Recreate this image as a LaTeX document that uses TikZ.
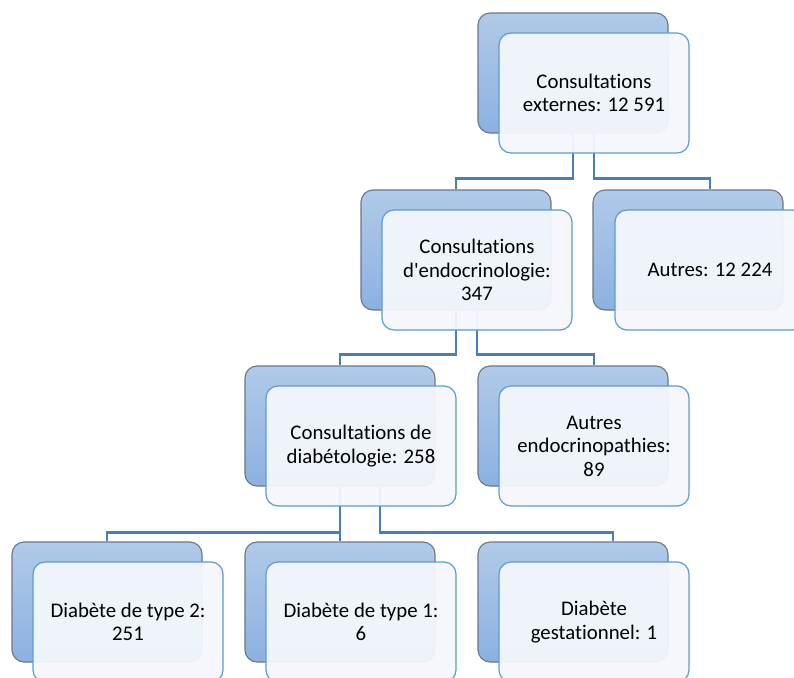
\documentclass[tikz,border=0pt]{standalone}
\usepackage{fontspec}
\setmainfont{Carlito}[Ligatures={NoCommon,TeXOff}]
\definecolor{bktop}{HTML}{B0CAE8}
\definecolor{bkbot}{HTML}{8CB1E0}
\definecolor{bkline}{HTML}{6C7686}
\definecolor{frfill}{HTML}{F4F7FC}
\definecolor{frline}{HTML}{5B9BD5}
\definecolor{connc}{HTML}{4A7EBB}
\tikzset{
  backbox/.style={draw=bkline, line width=1.1pt, top color=bktop, bottom color=bkbot,
    rounded corners=12pt, minimum width=190pt, minimum height=120pt, inner sep=0pt},
  frontbox/.style={draw=frline, line width=1.2pt, fill=frfill, fill opacity=0.95, text opacity=1,
    rounded corners=12pt, minimum width=190pt, minimum height=120pt, inner sep=0pt,
    align=center, font=\fontsize{20.8}{23.5}\selectfont},
  conn/.style={draw=connc, line width=2.6pt}
}
\begin{document}
\begin{tikzpicture}[x=1pt,y=-1pt]
\useasboundingbox (0,0) rectangle (794,677);
\clip (0,0) rectangle (794,677);
% back boxes
\node[backbox] (topb) at (573,73) {};
\node[backbox] (l2lb) at (456,250) {};
\node[backbox] (l2rb) at (688,250) {};
\node[backbox] (l3lb) at (340,426) {};
\node[backbox] (l3rb) at (573,426) {};
\node[backbox] (l4ab) at (107,602) {};
\node[backbox] (l4bb) at (340,602) {};
\node[backbox] (l4cb) at (573,602) {};
% front box centres (for connectors)
\coordinate (topfc) at (594,93);
\coordinate (l2lfc) at (477,270);
\coordinate (l2rfc) at (710,270);
\coordinate (l3rfc) at (594,446);
% connectors
\draw[conn] (topb.south) -- ++(0,45) -| (l2lb.north);
\draw[conn] (topb.south -| topfc) -- ++(0,45) -| (l2rb.north -| l2rfc);
\draw[conn] (l2lb.south) -- ++(0,44) -| (l3lb.north);
\draw[conn] (l2lb.south -| l2lfc) -- ++(0,44) -| (l3rb.north -| l3rfc);
\draw[conn] (l3lb.south) -- ++(0,46) -| (l4ab.north);
\draw[conn] (l3lb.south) -- (l4bb.north);
\draw[conn] ([xshift=40pt]l3lb.south) -- ++(0,46) -| ([xshift=40pt]l4cb.north);
% front boxes
\node[frontbox] (topf) at (topfc) {Consultations\\externes: 12 591};
\node[frontbox] (l2lf) at (l2lfc) {Consultations\\d'endocrinologie:\\347};
\node[frontbox] (l2rf) at (l2rfc) {Autres: 12 224};
\node[frontbox] (l3lf) at (361,446) {Consultations de\\diabétologie: 258};
\node[frontbox] (l3rf) at (l3rfc) {Autres\\endocrinopathies:\\89};
\node[frontbox] (l4af) at (128,622) {Diabète de type 2:\\251};
\node[frontbox] (l4bf) at (361,622) {Diabète de type 1:\\6};
\node[frontbox] (l4cf) at (594,622) {Diabète\\gestationnel: 1};
\end{tikzpicture}
\end{document}
